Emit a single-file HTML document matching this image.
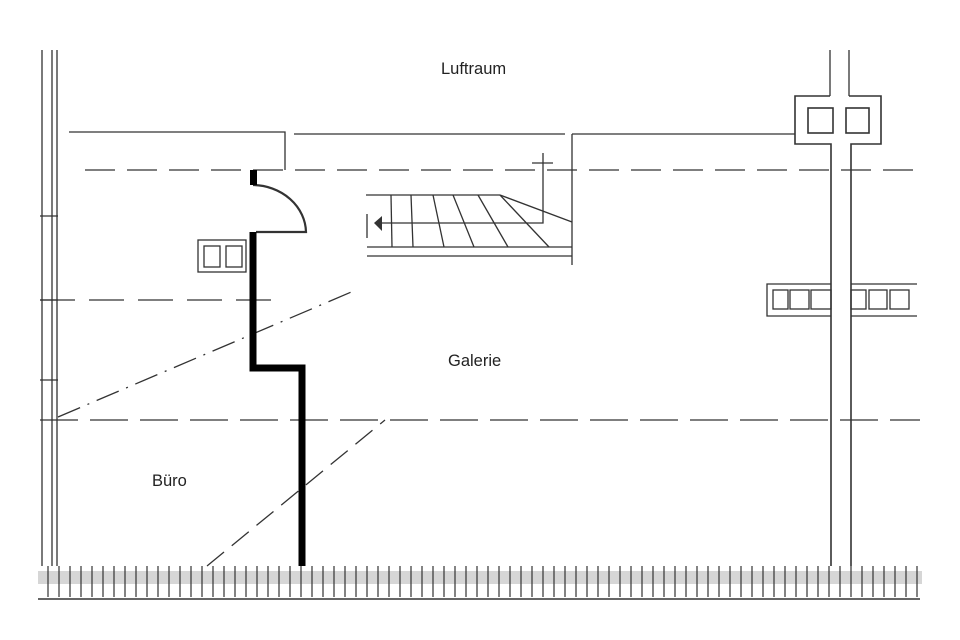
<!DOCTYPE html>
<html><head><meta charset="utf-8"><style>
html,body{margin:0;padding:0;background:#fff}
svg{display:block}
text{font-family:"Liberation Sans",sans-serif;font-size:16.5px;fill:#222}
</style></head><body>
<svg width="960" height="640" viewBox="0 0 960 640" xmlns="http://www.w3.org/2000/svg">
<g stroke="#333" stroke-width="1.3" fill="none">
<line x1="42" y1="50" x2="42" y2="566"/>
<line x1="52" y1="50" x2="52" y2="566"/>
<line x1="57" y1="50" x2="57" y2="566"/>
<line x1="40" y1="216" x2="58" y2="216"/>
<line x1="40" y1="300" x2="58" y2="300"/>
<line x1="40" y1="380" x2="58" y2="380"/>
<polyline points="69,132 285,132 285,170"/>
<line x1="294" y1="134" x2="565" y2="134"/>
<line x1="572" y1="134" x2="795" y2="134"/>
<line x1="572" y1="134" x2="572" y2="265"/>
<line x1="85" y1="170" x2="920" y2="170" stroke-dasharray="30,12"/>
<line x1="40" y1="300" x2="285" y2="300" stroke-dasharray="35,14"/>
<line x1="40" y1="420" x2="920" y2="420" stroke-dasharray="38,12"/>
<line x1="58" y1="417" x2="356" y2="290" stroke-dasharray="24,8,2,8"/>
<polyline points="207,566 385,420" stroke-dasharray="22,10"/>
<path d="M253,185 A54,48 0 0 1 306,232 L256,232" stroke-width="2.2"/>
<rect x="198" y="240" width="48" height="32"/>
<rect x="204" y="246" width="16" height="21"/>
<rect x="226" y="246" width="16" height="21"/>
<line x1="366" y1="195" x2="500" y2="195"/>
<line x1="367" y1="247" x2="572" y2="247"/>
<line x1="367" y1="256" x2="572" y2="256"/>
<line x1="500" y1="195" x2="572" y2="222"/>
<line x1="391" y1="195" x2="392" y2="247"/>
<line x1="411" y1="195" x2="413" y2="247"/>
<line x1="433" y1="195" x2="444" y2="247"/>
<line x1="453" y1="195" x2="474" y2="247"/>
<line x1="478" y1="195" x2="508" y2="247"/>
<line x1="500" y1="195" x2="549" y2="247"/>
<polyline points="380,223 543,223 543,153"/>
<line x1="532" y1="163" x2="553" y2="163"/>
<line x1="367" y1="214" x2="367" y2="238"/>
<line x1="830" y1="50" x2="830" y2="96"/>
<line x1="849" y1="50" x2="849" y2="96"/>
<polyline points="830,96 795,96 795,144 831,144 831,566" stroke-width="1.6"/>
<polyline points="849,96 881,96 881,144 851,144 851,566" stroke-width="1.6"/>
<rect x="808" y="108" width="25" height="25" stroke-width="1.6"/>
<rect x="846" y="108" width="23" height="25" stroke-width="1.6"/>
<polyline points="831,284 767,284 767,316 831,316"/>
<polyline points="851,284 917,284"/>
<polyline points="851,316 917,316"/>
<rect x="773" y="290" width="15" height="19"/>
<rect x="790" y="290" width="19" height="19"/>
<rect x="811" y="290" width="20" height="19"/>
<rect x="851" y="290" width="15" height="19"/>
<rect x="869" y="290" width="18" height="19"/>
<rect x="890" y="290" width="19" height="19"/>
</g>
<polygon points="374,223 382,216 382,231" fill="#333"/>
<rect x="250" y="170" width="7" height="15" fill="#000"/>
<polyline points="253,232 253,368 302,368 302,566" fill="none" stroke="#000" stroke-width="7"/>
<rect x="38" y="571" width="884" height="13" fill="#d6d6d6"/>
<path stroke="#333" stroke-width="1.2" fill="none" d="M48 566V597M59 566V597M70 566V597M81 566V597M92 566V597M103 566V597M114 566V597M125 566V597M136 566V597M147 566V597M158 566V597M169 566V597M180 566V597M191 566V597M202 566V597M213 566V597M224 566V597M235 566V597M246 566V597M257 566V597M268 566V597M279 566V597M290 566V597M301 566V597M312 566V597M323 566V597M334 566V597M345 566V597M356 566V597M367 566V597M378 566V597M389 566V597M400 566V597M411 566V597M422 566V597M433 566V597M444 566V597M455 566V597M466 566V597M477 566V597M488 566V597M499 566V597M510 566V597M521 566V597M532 566V597M543 566V597M554 566V597M565 566V597M576 566V597M587 566V597M598 566V597M609 566V597M620 566V597M631 566V597M642 566V597M653 566V597M664 566V597M675 566V597M686 566V597M697 566V597M708 566V597M719 566V597M730 566V597M741 566V597M752 566V597M763 566V597M774 566V597M785 566V597M796 566V597M807 566V597M818 566V597M829 566V597M840 566V597M851 566V597M862 566V597M873 566V597M884 566V597M895 566V597M906 566V597M917 566V597"/>
<line x1="38" y1="599" x2="920" y2="599" stroke="#333" stroke-width="1.6"/>
<text x="441" y="74">Luftraum</text>
<text x="448" y="366">Galerie</text>
<text x="152" y="486">Büro</text>
</svg>
</body></html>
